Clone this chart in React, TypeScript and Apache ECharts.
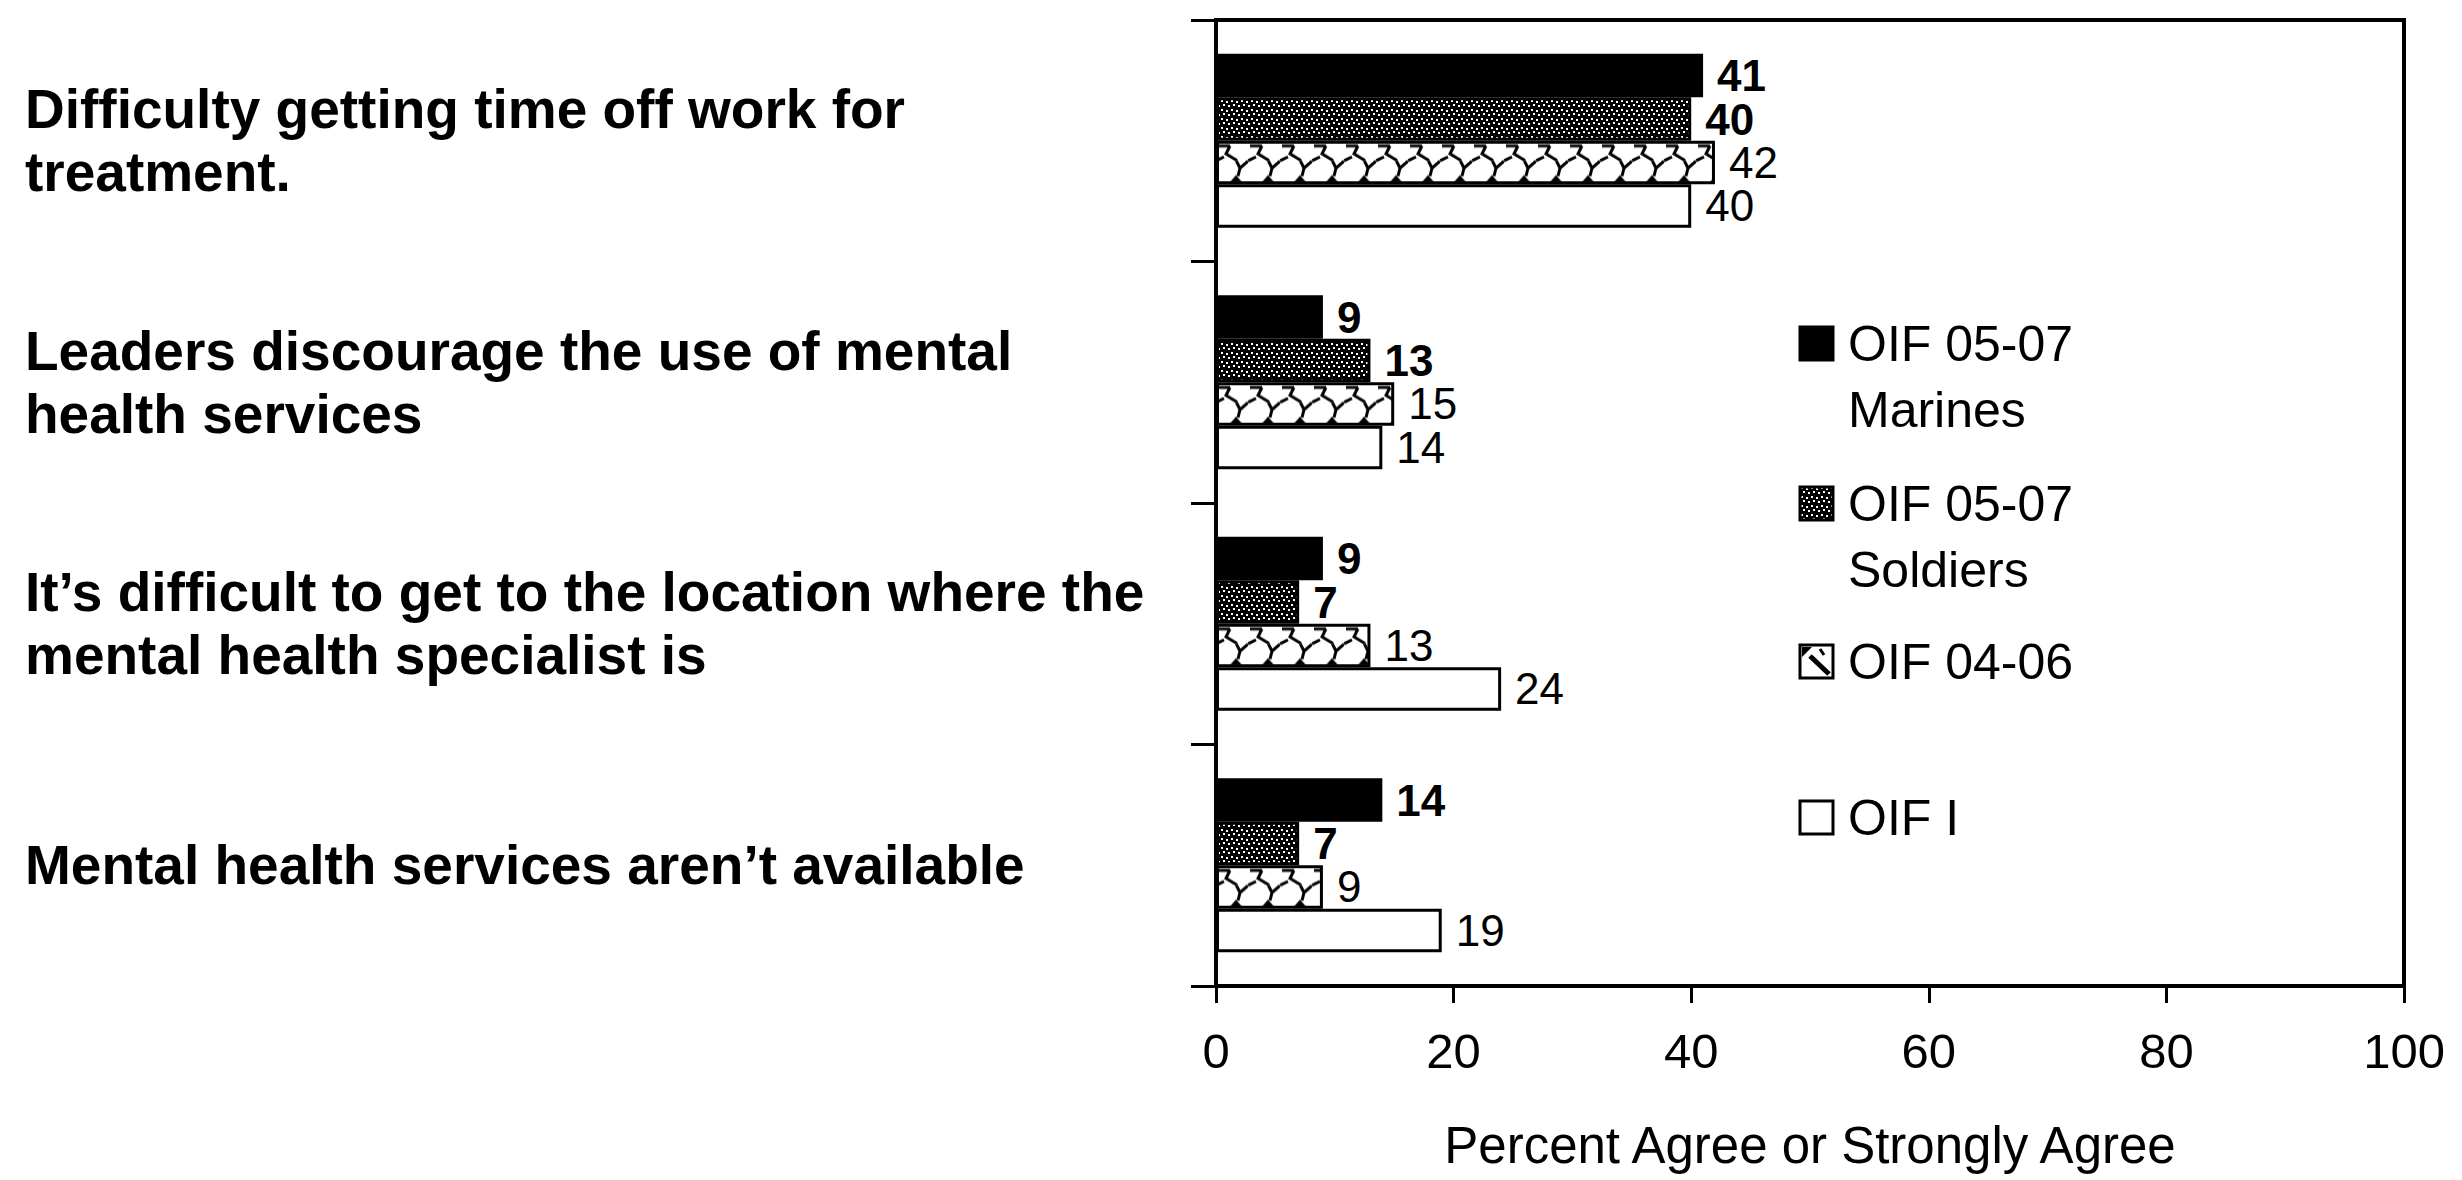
import React, { useEffect, useRef } from 'react';
import * as echarts from 'echarts';

// ---- data ----
const categories = [
  'Difficulty getting time off work for\ntreatment.',
  'Leaders discourage the use of mental\nhealth services',
  'It’s difficult to get to the location where the\nmental health specialist is',
  'Mental health services aren’t available',
];
const seriesNames = ['OIF 05-07 Marines', 'OIF 05-07 Soldiers', 'OIF 04-06', 'OIF I'];
const legendLabels = ['OIF 05-07\nMarines', 'OIF 05-07\nSoldiers', 'OIF 04-06', 'OIF I'];
const marines = [41, 9, 9, 14];
const soldiers = [40, 13, 7, 7];
const oif0406 = [42, 15, 13, 9];
const oif1 = [40, 14, 24, 19];
const xTicks = [0, 20, 40, 60, 80, 100];
const xAxisName = 'Percent Agree or Strongly Agree';

// ---- style / layout constants ----
const FONT = '"Liberation Sans", Arial, Helvetica, sans-serif';
const labelLift = [22, 26, 2, 20];
const legendCenters = [344, 504, 662, 818];
const ICON_X = 1800;
const ICON_SIZE = 33;

function makeDots(): HTMLCanvasElement {
  const c = document.createElement('canvas');
  c.width = 10;
  c.height = 9;
  const g = c.getContext('2d')!;
  g.fillStyle = '#000';
  g.fillRect(0, 0, 10, 9);
  g.fillStyle = '#fff';
  [[1, 1], [6, 2], [3, 5], [8, 6]].forEach(([x, y]) => g.fillRect(x, y, 2, 2));
  return c;
}

function makeWave(): HTMLCanvasElement {
  const w = 32;
  const h = 40;
  const c = document.createElement('canvas');
  c.width = w;
  c.height = h;
  const g = c.getContext('2d')!;
  g.fillStyle = '#fff';
  g.fillRect(0, 0, w, h);
  g.strokeStyle = '#000';
  g.fillStyle = '#000';
  g.lineWidth = 3;
  const draw = (dy: number) => {
    g.beginPath();
    g.moveTo(2, dy + 5);
    g.lineTo(14, dy + 5);
    g.moveTo(14, dy + 5);
    g.lineTo(10, dy + 13);
    g.lineTo(20, dy + 19);
    g.lineTo(24, dy + 27);
    g.lineTo(22, dy + 35);
    g.moveTo(0, dy + 20);
    g.lineTo(8, dy + 16);
    g.moveTo(24, dy + 27);
    g.lineTo(32, dy + 20);
    g.stroke();
    g.beginPath();
    g.moveTo(14, dy + 41);
    g.lineTo(20, dy + 34);
    g.lineTo(26, dy + 41);
    g.closePath();
    g.fill();
  };
  draw(20);
  draw(-20);
  return c;
}

export default function App() {
  const ref = useRef<HTMLDivElement>(null);

  useEffect(() => {
    if (!ref.current) return;
    const chart = echarts.init(ref.current, undefined, { renderer: 'svg' });

    const dots = makeDots();
    const wave = makeWave();
    const dotFill: any = { image: dots, repeat: 'repeat', imageWidth: 10, imageHeight: 9 };
    const waveFill: any = { image: wave, repeat: 'repeat', imageWidth: 32, imageHeight: 40.25 };
    const fills: any[] = ['#000', dotFill, waveFill, '#fff'];
    const iconFills: any[] = ['#000', dotFill, '#fff', '#fff'];
    const values = [marines, soldiers, oif0406, oif1];
    const bold = [true, true, false, false];

    const series = seriesNames.map((name, i) => ({
      name,
      type: 'bar',
      data: values[i],
      barGap: '0%',
      barCategoryGap: '28%',
      itemStyle: { color: fills[i], borderColor: '#000', borderWidth: 3 },
      label: {
        show: true,
        position: 'right',
        distance: 14,
        color: '#000',
        fontSize: 44,
        fontFamily: FONT,
        fontWeight: bold[i] ? 'bold' : 'normal',
      },
      emphasis: { disabled: true },
    }));

    const graphic: any[] = [];
    legendLabels.forEach((label, i) => {
      const top = legendCenters[i] - 17;
      graphic.push({
        type: 'rect',
        shape: { x: ICON_X, y: top, width: ICON_SIZE, height: ICON_SIZE },
        style: { fill: iconFills[i], stroke: '#000', lineWidth: 3 },
      });
      if (i === 2) {
        graphic.push({
          type: 'polygon',
          shape: { points: [[ICON_X + 2, top + 2], [ICON_X + 12, top + 2], [ICON_X + 2, top + 12]] },
          style: { fill: '#000' },
        });
        graphic.push({
          type: 'line',
          shape: { x1: ICON_X + 10, y1: top + 11, x2: ICON_X + 29, y2: top + 29 },
          style: { stroke: '#000', lineWidth: 5 },
        });
        graphic.push({
          type: 'line',
          shape: { x1: ICON_X + 20, y1: top + 4, x2: ICON_X + 24, y2: top + 10 },
          style: { stroke: '#000', lineWidth: 3 },
        });
      }
      graphic.push({
        type: 'text',
        x: 1848,
        y: legendCenters[i] - 33,
        style: {
          text: label,
          fontSize: 50,
          fontFamily: FONT,
          fill: '#000',
          lineHeight: 66,
          verticalAlign: 'top',
          align: 'left',
        },
      });
    });

    const labelStyle = {
      color: '#000',
      fontSize: 55,
      fontWeight: 'bold',
      fontFamily: FONT,
      align: 'left',
      verticalAlign: 'middle',
      lineHeight: 63,
    };

    chart.setOption({
      animation: false,
      backgroundColor: '#fff',
      grid: {
        left: 1216,
        right: 58,
        top: 20,
        bottom: 194,
        containLabel: false,
        outerBoundsMode: 'none',
        show: true,
        borderColor: '#000',
        borderWidth: 4,
        backgroundColor: 'transparent',
      },
      xAxis: {
        type: 'value',
        min: xTicks[0],
        max: xTicks[xTicks.length - 1],
        interval: xTicks[1] - xTicks[0],
        axisLine: { show: true, lineStyle: { color: '#000', width: 4 } },
        axisTick: { show: true, length: 17, lineStyle: { color: '#000', width: 3 } },
        splitLine: { show: false },
        axisLabel: { color: '#000', fontSize: 49, fontFamily: FONT, margin: 40 },
        name: xAxisName,
        nameLocation: 'middle',
        nameGap: 134,
        nameTextStyle: { color: '#000', fontSize: 51, fontFamily: FONT },
      },
      yAxis: {
        type: 'category',
        inverse: true,
        data: categories.map((c, i) => ({
          value: c,
          textStyle: { ...labelStyle, padding: [0, 0, labelLift[i], 0] },
        })),
        axisLine: { show: true, lineStyle: { color: '#000', width: 4 } },
        axisTick: { show: true, length: 25, lineStyle: { color: '#000', width: 3 } },
        splitLine: { show: false },
        axisLabel: { ...labelStyle, margin: 1191 },
      },
      series,
      graphic,
    });

    return () => chart.dispose();
  }, []);

  return (
    <div
      ref={ref}
      style={{ position: 'fixed', left: 0, top: 0, width: 2462, height: 1180, background: '#fff' }}
    />
  );
}
